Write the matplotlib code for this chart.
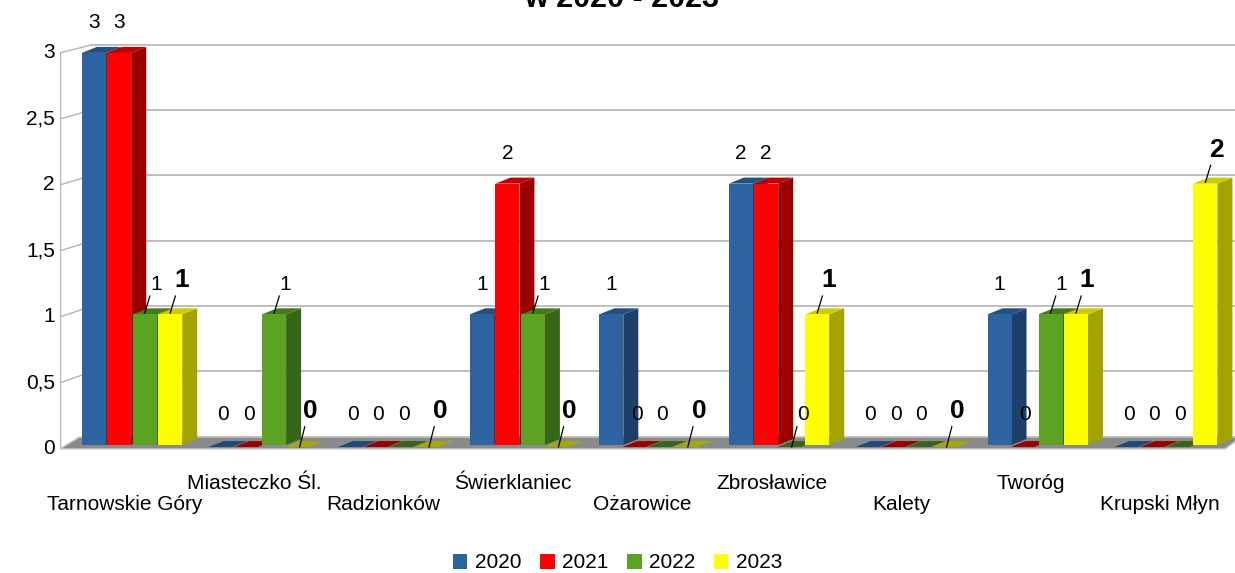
import matplotlib
matplotlib.use('Agg')
import matplotlib.pyplot as plt
from matplotlib.patches import Polygon, Rectangle, Patch

plt.rcParams['font.family'] = ['Liberation Sans', 'DejaVu Sans']

# dane
categories = ['Tarnowskie Góry', 'Miasteczko Śl.', 'Radzionków', 'Świerklaniec', 'Ożarowice',
              'Zbrosławice', 'Kalety', 'Tworóg', 'Krupski Młyn']
years = ['2020', '2021', '2022', '2023']
v2020 = [3, 0, 0, 1, 1, 2, 0, 1, 0]
v2021 = [3, 0, 0, 2, 0, 2, 0, 0, 0]
v2022 = [1, 1, 0, 1, 0, 0, 0, 1, 0]
v2023 = [1, 0, 0, 0, 0, 1, 0, 1, 2]
series = [v2020, v2021, v2022, v2023]
yticks = [0, 0.5, 1, 1.5, 2, 2.5, 3]
ytick_labels = ['0', '0,5', '1', '1,5', '2', '2,5', '3']

# kolory: front, bok, gora
front = ['#2d63a1', '#ff0000', '#5ba321', '#ffff00']
side = ['#1d3f68', '#9a0000', '#386618', '#a3a300']
top = ['#24507f', '#c00000', '#44791d', '#cccc00']
flat = ['#1f497d', '#9b0000', '#376417', '#a8a800']

# etykiety 2022 z linia odniesienia
leader_2022 = {0, 1, 3, 5, 7}

fig = plt.figure(figsize=(12.35, 5.73), dpi=100)
ax = fig.add_axes([0.0486, 0.2164, 0.9514, 0.7138])
x_left, x_right = -0.556, 8.524
ax.set_xlim(x_left, x_right)
ax.set_ylim(-0.0306, 3.099)
ax.axis('off')

pitch, w = 0.197, 0.185
dx, dy = 0.116, 0.046
wall_dx, wall_dy = 0.247, 0.063
grid_c = '#b3b3b3'


def front_y(v):
    return v * 1.01 - 0.03


# sciany i siatka
ax.plot([x_left + 0.002, x_left + 0.002], [front_y(0), front_y(3)], color=grid_c, lw=1, zorder=1)
for v, lab in zip(yticks, ytick_labels):
    ax.plot([x_left, x_left + wall_dx], [front_y(v), v + wall_dy], color=grid_c, lw=1, zorder=1)
    ax.plot([x_left + wall_dx, x_right], [v + wall_dy, v + wall_dy], color=grid_c, lw=1.2, zorder=1)
    ax.text(x_left - 0.04, front_y(v), lab, ha='right', va='center', fontsize=15, clip_on=False)

# podloga
ax.add_patch(Polygon([(x_left, -0.03), (8.447, -0.03), (x_right + 0.05, 0.061), (x_left + 0.15, 0.061)],
                     closed=True, facecolor='#8a8a8a', edgecolor='#c8c8c8', lw=1, zorder=2, clip_on=False))

for i in range(len(categories)):
    for j, vals in enumerate(series):
        v = vals[i]
        x0 = i + (j - 1.5) * pitch - w / 2
        x1 = x0 + w
        z = 3 + j * 0.1
        if v > 0:
            ax.add_patch(Polygon([(x1, 0), (x1 + dx, dy), (x1 + dx, v + dy), (x1, v)],
                                 closed=True, facecolor=side[j], edgecolor='none', zorder=z))
            ax.add_patch(Polygon([(x0, v), (x1, v), (x1 + dx, v + dy), (x0 + dx, v + dy)],
                                 closed=True, facecolor=top[j], edgecolor='none', zorder=z))
            ax.add_patch(Rectangle((x0, 0), w, v, facecolor=front[j], edgecolor='none', zorder=z))
        else:
            ax.add_patch(Polygon([(x0 - 0.02, -0.015), (x1 - 0.02, -0.015), (x1 + dx - 0.02, 0.03),
                                  (x0 + dx - 0.02, 0.03)],
                                 closed=True, facecolor=flat[j], edgecolor='none', zorder=2.5))

        # etykiety danych
        cx = x0 + w / 2
        bold = j == 3
        leader = j == 3 or (j == 2 and i in leader_2022)
        lx = cx + (0.085 if leader else 0)
        ly = v + (0.26 if bold else 0.23)
        ax.text(lx, ly, str(v), ha='center', va='center', fontsize=19 if bold else 15,
                fontweight='bold' if bold else 'normal', zorder=6, clip_on=False)
        if leader:
            y0 = v + 0.01 if v > 0 else -0.015
            ax.plot([cx, cx + 0.04], [y0, v + 0.14], color='black', lw=0.9, zorder=6)

    # podpisy kategorii
    ly = -0.459 if i % 2 == 0 else -0.291
    ax.text(i - 0.055, ly, categories[i], ha='center', va='center', fontsize=15, clip_on=False)

fig.text(622 / 1235, 1 - 7 / 573, 'w 2020 - 2023', ha='center', va='baseline',
         fontsize=22, fontweight='bold')

handles = [Patch(facecolor=front[j], edgecolor='none', label=years[j]) for j in range(4)]
fig.legend(handles=handles, loc='center', bbox_to_anchor=(0.5, 1 - 563 / 573), ncol=4,
           frameon=False, fontsize=15, handlelength=0.7, handleheight=0.7,
           handletextpad=0.35, columnspacing=0.9)

fig.savefig('out.png', dpi=100)
